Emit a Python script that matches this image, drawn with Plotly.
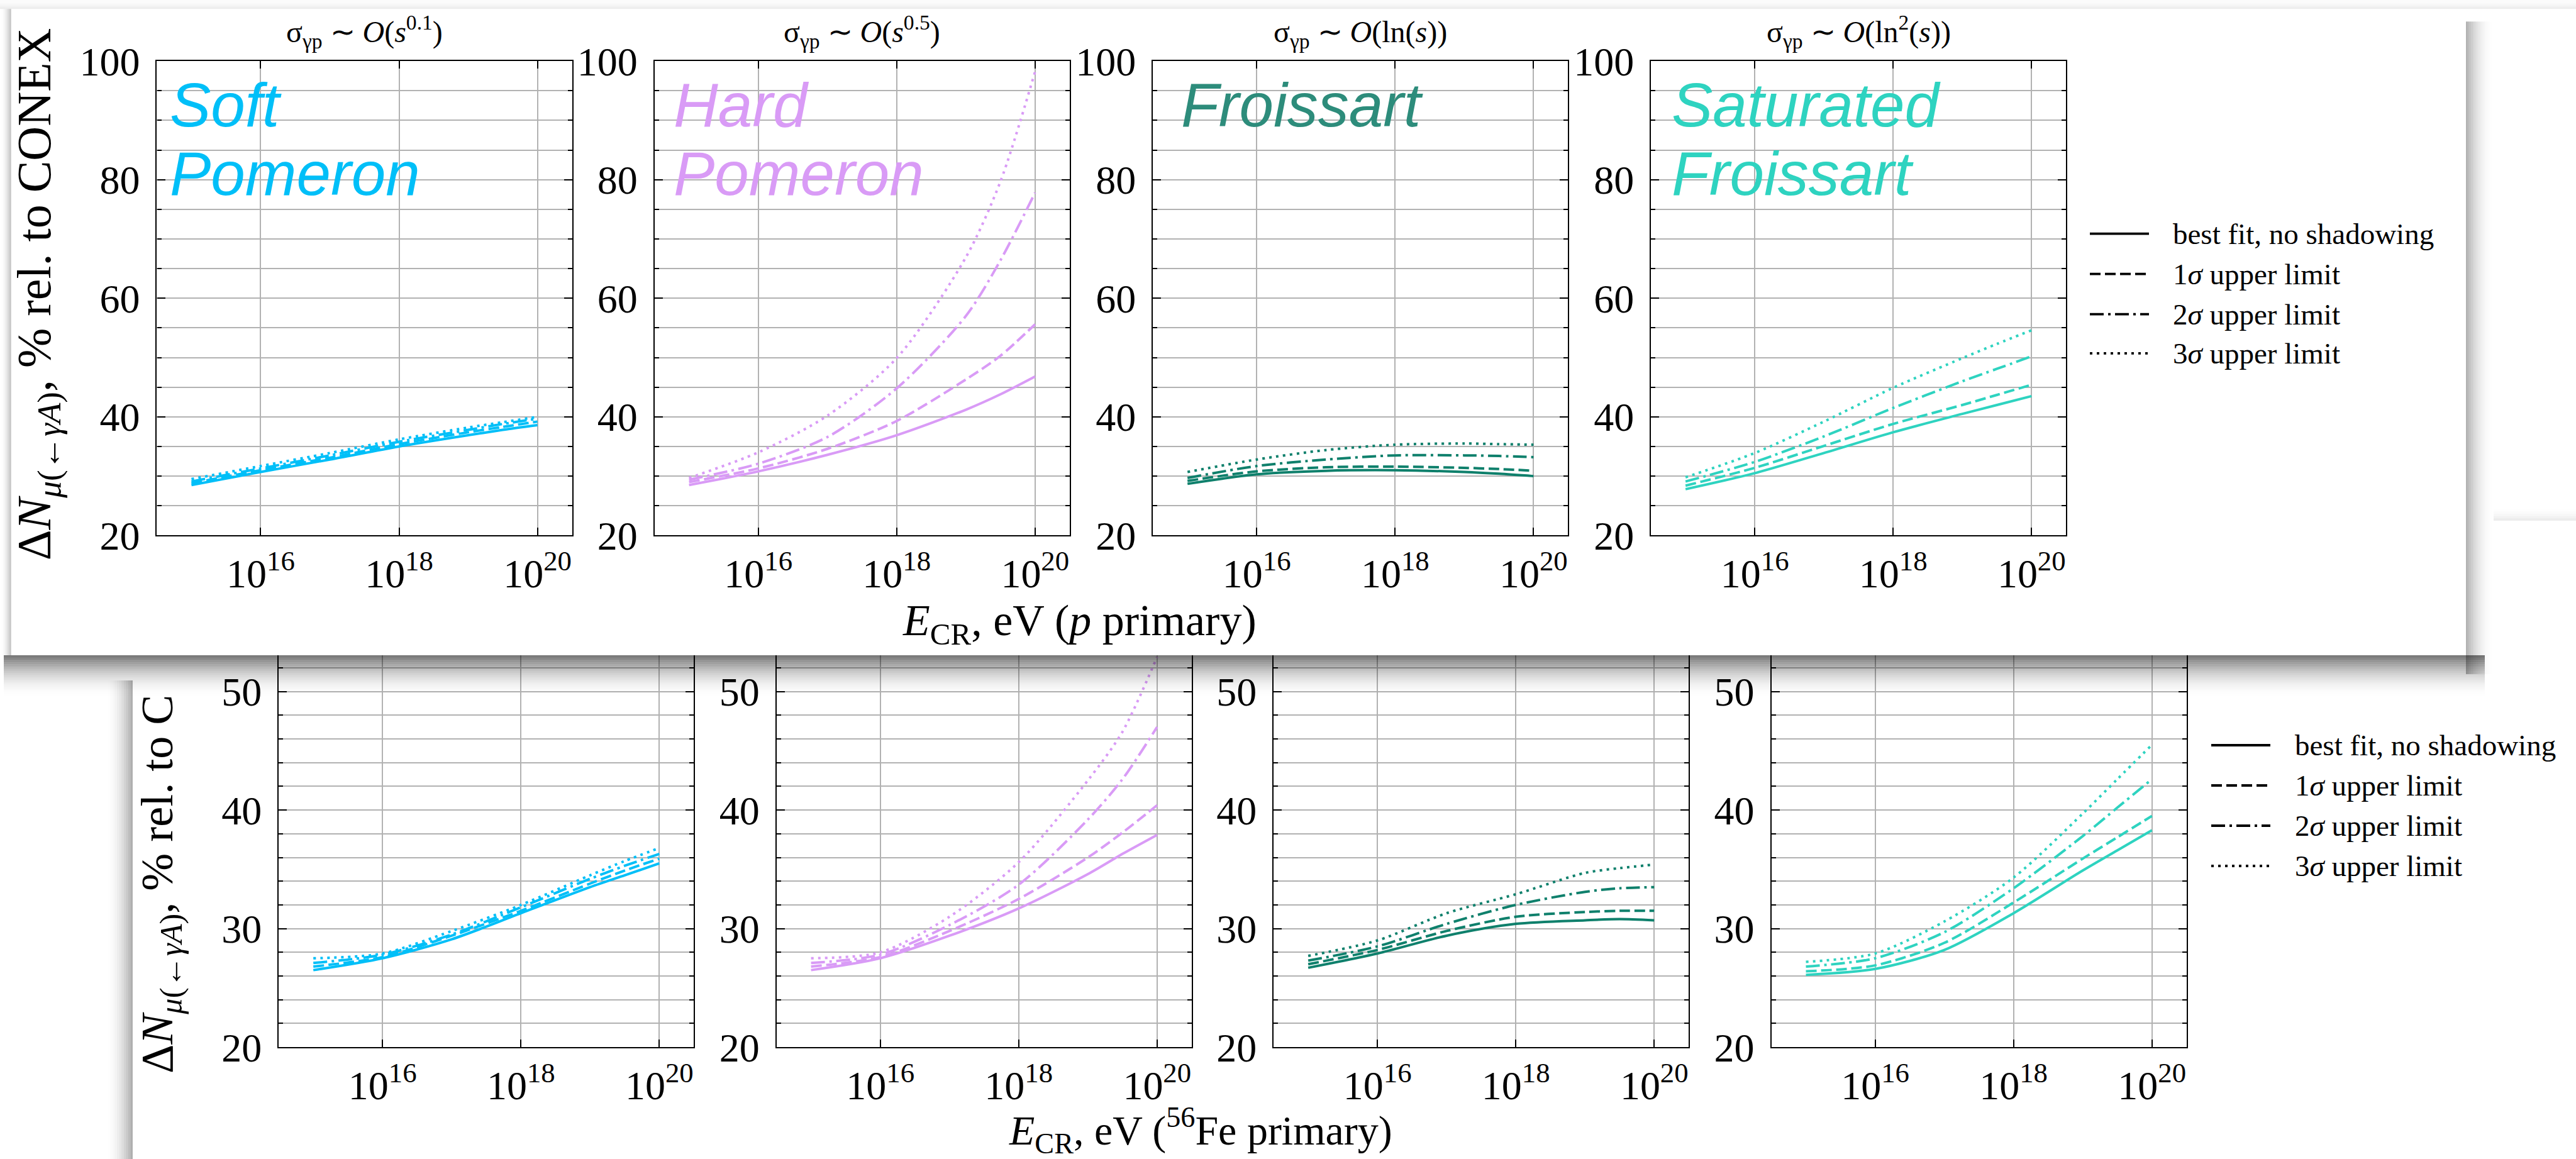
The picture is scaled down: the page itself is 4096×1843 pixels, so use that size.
import plotly.graph_objects as go

# ---------------------------------------------------------------------------
# Data: muon-number excess (% relative to CONEX) vs cosmic-ray energy
# rows in every block: best fit (no shadowing), 1σ, 2σ, 3σ upper limits
# ---------------------------------------------------------------------------
LOG_E = [15, 16, 17, 18, 19, 19.5, 20]
E_CR = [10.0 ** p for p in LOG_E]

# proton primaries
SOFT_P = [
    [28.5, 30.7, 32.8, 35.0, 36.9, 37.8, 38.6],
    [28.8, 31.0, 33.1, 35.4, 37.4, 38.3, 39.2],
    [29.1, 31.3, 33.5, 35.8, 37.8, 38.8, 39.7],
    [29.5, 31.7, 33.9, 36.2, 38.2, 39.1, 40.0],
]
HARD_P = [
    [28.5, 30.8, 33.6, 36.9, 41.2, 43.8, 46.8],
    [29.0, 31.3, 34.6, 39.3, 46.3, 50.3, 55.6],
    [29.4, 32.1, 36.6, 44.8, 57.0, 66.4, 77.8],
    [29.7, 34.0, 40.2, 49.9, 66.9, 79.7, 98.2],
]
FROI_P = [
    [28.7, 30.3, 30.9, 31.0, 30.7, 30.4, 30.0],
    [29.2, 30.8, 31.5, 31.6, 31.4, 31.2, 30.9],
    [29.7, 31.7, 32.8, 33.5, 33.5, 33.4, 33.2],
    [30.7, 32.8, 34.4, 35.3, 35.5, 35.4, 35.3],
]
SATF_P = [
    [27.8, 30.5, 33.9, 37.4, 40.5, 42.0, 43.5],
    [28.4, 31.4, 35.1, 38.8, 42.0, 43.7, 45.4],
    [29.1, 32.4, 36.7, 41.5, 46.0, 48.1, 50.2],
    [29.8, 33.9, 39.2, 44.9, 49.9, 52.3, 54.6],
]

# iron primaries
SOFT_FE = [
    [26.5, 27.5, 29.1, 31.3, 33.5, 34.5, 35.5],
    [26.8, 27.6, 29.4, 31.5, 33.8, 34.9, 35.9],
    [27.1, 27.8, 29.5, 31.8, 34.2, 35.3, 36.3],
    [27.5, 27.9, 29.8, 32.0, 34.5, 35.7, 36.8],
]
HARD_FE = [
    [26.5, 27.5, 29.4, 31.7, 34.6, 36.3, 37.9],
    [26.8, 27.6, 29.8, 32.5, 36.0, 38.1, 40.4],
    [27.1, 27.8, 30.3, 33.7, 39.2, 42.6, 47.0],
    [27.5, 28.0, 31.0, 35.6, 42.5, 46.6, 52.9],
]
FROI_FE = [
    [26.7, 27.9, 29.4, 30.4, 30.7, 30.8, 30.7],
    [27.0, 28.2, 29.8, 31.0, 31.4, 31.5, 31.5],
    [27.3, 28.5, 30.4, 32.0, 33.1, 33.4, 33.5],
    [27.7, 29.0, 31.3, 32.9, 34.7, 35.1, 35.4],
]
SATF_FE = [
    [26.1, 26.6, 28.2, 31.3, 34.9, 36.6, 38.3],
    [26.4, 26.9, 28.8, 32.2, 35.9, 37.7, 39.5],
    [26.8, 27.5, 29.7, 33.4, 37.8, 40.2, 42.6],
    [27.2, 27.9, 30.6, 34.3, 39.7, 42.6, 45.5],
]

MODEL_LINES = [["Soft", "Pomeron"], ["Hard", "Pomeron"], ["Froissart"], ["Saturated", "Froissart"]]
MODEL_TEXT_COLORS = ["#00bff8", "#d99bf6", "#2d8c7b", "#2ed3c0"]
MODEL_LINE_COLORS = ["#00bff8", "#d99bf6", "#0f806c", "#2ed3c0"]
PANEL_TITLES = [
    "σ<sub>γp</sub> ∼ <i>O</i>(<i>s</i><sup>0.1</sup>)",
    "σ<sub>γp</sub> ∼ <i>O</i>(<i>s</i><sup>0.5</sup>)",
    "σ<sub>γp</sub> ∼ <i>O</i>(ln(<i>s</i>))",
    "σ<sub>γp</sub> ∼ <i>O</i>(ln<sup>2</sup>(<i>s</i>))",
]
LEGEND_LABELS = ["best fit, no shadowing", "1<i>σ</i> upper limit",
                 "2<i>σ</i> upper limit", "3<i>σ</i> upper limit"]
X_TICKS = [1e16, 1e18, 1e20]
X_TICK_TEXT = ["10<sup>16</sup>", "10<sup>18</sup>", "10<sup>20</sup>"]

# ---------------------------------------------------------------------------
W, H = 4096, 1843
SERIF = "Liberation Serif"
SANS = "Liberation Sans"
LW = 4.0
DASHES = ["solid", "17px,7px", "22px,7px,4px,7px", "4px,7px"]


def px(x):
    return x / W


def py(y):
    return 1 - y / H


fig = go.Figure()
shapes = []
annotations = []

# panel geometry (pixels): top row = proton, bottom row = iron
TOP_LEFT = [249.4, 1040.6, 1833.2, 2625.1]
BOT_LEFT = [443.2, 1234.6, 2025.1, 2816.5]
PANEL_W = 660.2
TOP_Y0, TOP_Y1 = 97.2, 851.4
BOT_Y0, BOT_Y1 = 1042.0, 1665.2
BOT_PX_PER_UNIT = 18.855

panels = []
for i, d in enumerate([SOFT_P, HARD_P, FROI_P, SATF_P]):
    panels.append(dict(data=d, left=TOP_LEFT[i], y0=TOP_Y0, y1=TOP_Y1,
                       yr=[20, 100], dt=20, mdt=5, top=True, model=i))
for i, d in enumerate([SOFT_FE, HARD_FE, FROI_FE, SATF_FE]):
    panels.append(dict(data=d, left=BOT_LEFT[i], y0=BOT_Y0, y1=BOT_Y1,
                       yr=[20, 20 + (BOT_Y1 - BOT_Y0) / BOT_PX_PER_UNIT], dt=10, mdt=2,
                       top=False, model=i))

layout = dict(width=W, height=H, autosize=False,
              margin=dict(l=0, r=0, t=0, b=0, pad=0, autoexpand=False),
              paper_bgcolor="white", plot_bgcolor="white", showlegend=False)

GRID = "#b2b2b2"
for k, p in enumerate(panels):
    n = k + 1
    xa = "xaxis" if n == 1 else f"xaxis{n}"
    ya = "yaxis" if n == 1 else f"yaxis{n}"
    xr = "x" if n == 1 else f"x{n}"
    yr = "y" if n == 1 else f"y{n}"
    layout[xa] = dict(
        domain=[px(p["left"]), px(p["left"] + PANEL_W)], anchor=yr,
        type="log", range=[14.5, 20.5], tickvals=X_TICKS, ticktext=X_TICK_TEXT,
        showline=True, linecolor="black", linewidth=2.2,
        mirror="allticks" if p["top"] else False,
        ticks="inside", ticklen=12, tickwidth=2, tickcolor="black",
        showgrid=True, gridcolor=GRID, gridwidth=2, zeroline=False,
        tickfont=dict(family=SERIF, size=64, color="black"),
        ticklabelstandoff=4, fixedrange=True, automargin=False,
    )
    layout[ya] = dict(
        domain=[py(p["y1"]), py(p["y0"])], anchor=xr,
        range=p["yr"], tick0=0, dtick=p["dt"],
        showline=True, linecolor="black", linewidth=2.2, mirror="allticks",
        ticks="inside", ticklen=13, tickwidth=2, tickcolor="black",
        showgrid=True, gridcolor=GRID, gridwidth=2, zeroline=False,
        minor=dict(dtick=p["mdt"], tick0=0, ticks="inside", ticklen=7, tickwidth=1.8,
                   tickcolor="black", showgrid=True, gridcolor=GRID, gridwidth=2),
        tickfont=dict(family=SERIF, size=64, color="black"),
        ticklabelstandoff=12, fixedrange=True, automargin=False,
    )
    color = MODEL_LINE_COLORS[p["model"]]
    for j, series in enumerate(p["data"]):
        fig.add_trace(go.Scatter(
            x=E_CR, y=series, xaxis=xr, yaxis=yr, mode="lines",
            line=dict(color=color, width=LW, dash=DASHES[j], shape="spline", smoothing=0.8),
            hoverinfo="skip",
        ))

fig.update_layout(**layout)

# model names inside the proton panels, and the cross-section law above each
LABEL_X = [268.0, 1069.0, 1876.0, 2656.0]
for i, lines in enumerate(MODEL_LINES):
    for r, word in enumerate(lines):
        annotations.append(dict(
            x=px(LABEL_X[i]), y=py(167 + 109 * r), xref="paper", yref="paper",
            xanchor="left", yanchor="middle", showarrow=False,
            text=f"<i>{word}</i>",
            font=dict(family=SANS, size=98, color=MODEL_TEXT_COLORS[i]),
        ))
    annotations.append(dict(
        x=px(TOP_LEFT[i] + PANEL_W / 2), y=py(86), xref="paper", yref="paper",
        xanchor="center", yanchor="bottom", showarrow=False, text=PANEL_TITLES[i],
        font=dict(family=SERIF, size=48, color="black"),
    ))

# axis titles
annotations += [
    dict(x=px(59.7), y=py(467.6), xref="paper", yref="paper", textangle=-90,
         xanchor="center", yanchor="middle", showarrow=False,
         text="Δ<i>N</i><sub><i>μ</i>(←<i>γA</i>)</sub>, % rel. to CONEX",
         font=dict(family=SERIF, size=76, color="black")),
    dict(x=px(1716), y=py(992), xref="paper", yref="paper",
         xanchor="center", yanchor="middle", showarrow=False,
         text="<i>E</i><sub>CR</sub>, eV (<i>p</i> primary)",
         font=dict(family=SERIF, size=70, color="black")),
    dict(x=px(255), y=py(1709), xref="paper", yref="paper", textangle=-90,
         xanchor="center", yanchor="bottom", showarrow=False,
         text="Δ<i>N</i><sub><i>μ</i>(←<i>γA</i>)</sub>, % rel. to C",
         font=dict(family=SERIF, size=72, color="black")),
    dict(x=px(1909), y=py(1797), xref="paper", yref="paper",
         xanchor="center", yanchor="middle", showarrow=False,
         text="<i>E</i><sub>CR</sub>, eV (<sup>56</sup>Fe primary)",
         font=dict(family=SERIF, size=66, color="black")),
]

# line-style keys for both rows
for (lx0, lx1, tx, rows) in [(3323, 3417, 3453, [371.7, 435.6, 499.6, 561.8]),
                             (3516, 3610, 3647, [1185, 1249, 1313, 1377])]:
    for j, yy in enumerate(rows):
        shapes.append(dict(type="line", xref="paper", yref="paper",
                           x0=px(lx0), x1=px(lx1), y0=py(yy), y1=py(yy),
                           line=dict(color="black", width=3.8, dash=DASHES[j]),
                           layer="above"))
        annotations.append(dict(
            x=px(tx), y=py(yy), xref="paper", yref="paper", xanchor="left",
            yanchor="middle", showarrow=False, text=LEGEND_LABELS[j],
            font=dict(family=SERIF, size=47, color="black")))


def soft_band(x0, x1, y0, y1, a_start, a_end, n, along_x):
    """Translucent strips fading from a_start (at x0/y0) to a_end (at x1/y1)."""
    for s in range(n):
        t = (s + 0.5) / n
        ease = t * t if a_end > a_start else (1 - t) ** 2
        a = min(a_start, a_end) + abs(a_end - a_start) * ease
        if along_x:
            xa_, xb_ = x0 + (x1 - x0) * s / n, x0 + (x1 - x0) * (s + 1) / n
            ya_, yb_ = y0, y1
        else:
            xa_, xb_ = x0, x1
            ya_, yb_ = y0 + (y1 - y0) * s / n, y0 + (y1 - y0) * (s + 1) / n
        shapes.append(dict(type="rect", xref="paper", yref="paper",
                           x0=px(xa_), x1=px(xb_), y0=py(ya_), y1=py(yb_),
                           fillcolor=f"rgba(0,0,0,{a:.4f})", line=dict(width=0),
                           layer="above"))


CARD_L, CARD_T, CARD_R, CARD_B = 17.7, 14.3, 3921.0, 1042.0
# shadows around the proton card
soft_band(0, W, 0, CARD_T, 0.015, 0.085, 6, along_x=False)
soft_band(0, CARD_L, CARD_T, CARD_B, 0.0, 0.26, 8, along_x=True)
soft_band(CARD_R, CARD_R + 44, CARD_T + 20, CARD_B + 30, 0.32, 0.0, 16, along_x=True)
soft_band(6, CARD_R + 30, CARD_B, CARD_B + 68, 0.57, 0.0, 24, along_x=False)
# edges of the iron sheet underneath
soft_band(CARD_R + 44, W, 806, 828, 0.0, 0.09, 6, along_x=False)
soft_band(168, 211, CARD_B + 40, H, 0.0, 0.34, 12, along_x=True)

fig.update_layout(shapes=shapes, annotations=annotations)
fig.write_html("out.html", include_plotlyjs=True, config={"displayModeBar": False})
